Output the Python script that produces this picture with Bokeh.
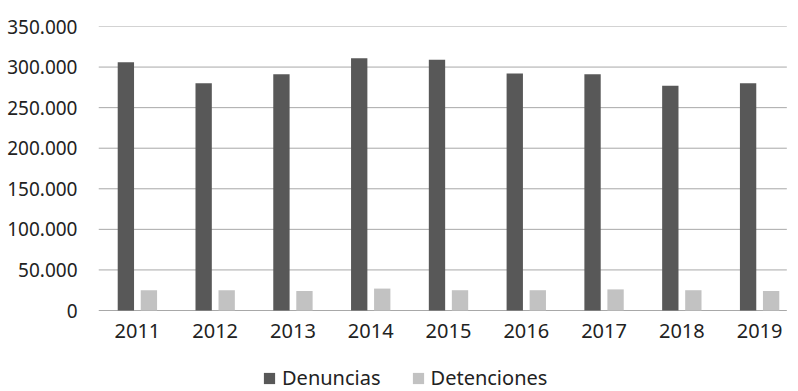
from bokeh.plotting import figure
from bokeh.models import FactorRange, FixedTicker, Legend, LegendItem, ColumnDataSource
from bokeh.core.properties import value
from bokeh.transform import dodge
from bokeh.embed import file_html
from bokeh.resources import INLINE

years = ["2011", "2012", "2013", "2014", "2015", "2016", "2017", "2018", "2019"]
denuncias = [306000, 280000, 291000, 311000, 309000, 292000, 291000, 277000, 280000]
detenciones = [25000, 25000, 24000, 27000, 25000, 25000, 26000, 25000, 24000]
y_ticks = [0, 50000, 100000, 150000, 200000, 250000, 300000, 350000]
y_tick_labels = ["0", "50.000", "100.000", "150.000", "200.000", "250.000", "300.000", "350.000"]

FONT = "Noto Sans"
FS_Y = "19px"
FS = "20px"
DARK = "#585858"
LIGHT = "#c2c2c2"
GRID = "#a8a8a8"
TXT = "#222222"

# layout: plot area 284 px tall for 0..350000, with 81 px below the zero line for labels/legend
Y_MAX = y_ticks[-1]
Y_MIN = -Y_MAX * 81 / 284

src = ColumnDataSource(dict(year=years, den=denuncias, det=detenciones, base=[0] * len(years)))
grid_src = ColumnDataSource(dict(y=y_ticks, first=[years[0]] * len(y_ticks),
                                 last=[years[-1]] * len(y_ticks)))

p = figure(x_range=FactorRange(*years), y_range=(Y_MIN, Y_MAX),
           width=798, height=391, output_backend="svg", toolbar_location=None,
           min_border_left=98, min_border_right=0, min_border_top=26, min_border_bottom=0)

# horizontal gridlines spanning the category area
p.segment(x0=dodge("first", -0.5, range=p.x_range), x1=dodge("last", 0.35, range=p.x_range),
          y0="y", y1="y", source=grid_src, line_color=GRID, line_width=1)

r1 = p.vbar(x=dodge("year", -0.148, range=p.x_range), top="den", width=0.21, source=src,
            fill_color=DARK, line_color=None)
r2 = p.vbar(x=dodge("year", 0.148, range=p.x_range), top="det", width=0.21, source=src,
            fill_color=LIGHT, line_color=None)

# category labels just below the zero line
p.text(x="year", y="base", text="year", source=src, y_offset=13,
       text_align="center", text_baseline="top",
       text_font=value(FONT), text_font_size=FS, text_color=TXT)

p.outline_line_color = None
p.background_fill_color = "white"
p.border_fill_color = "white"

p.xgrid.grid_line_color = None
p.ygrid.grid_line_color = None

p.xaxis.visible = False

p.yaxis.ticker = FixedTicker(ticks=y_ticks)
p.yaxis.major_label_overrides = {t: l for t, l in zip(y_ticks, y_tick_labels)}
p.yaxis.axis_line_color = None
p.yaxis.major_tick_line_color = None
p.yaxis.minor_tick_line_color = None
p.yaxis.major_label_standoff = 15
p.yaxis.major_label_text_font = FONT
p.yaxis.major_label_text_font_size = FS_Y
p.yaxis.major_label_text_color = TXT

legend = Legend(items=[LegendItem(label="Denuncias", renderers=[r1]),
                       LegendItem(label="Detenciones", renderers=[r2])],
                orientation="horizontal", location=(164, 0),
                label_text_font=FONT, label_text_font_size=FS, label_text_color=TXT,
                glyph_width=14, glyph_height=14, spacing=30, label_standoff=6,
                border_line_color=None, background_fill_alpha=0, margin=0, padding=0)
p.add_layout(legend, "center")

open("out.html", "w").write(file_html(p, INLINE))
